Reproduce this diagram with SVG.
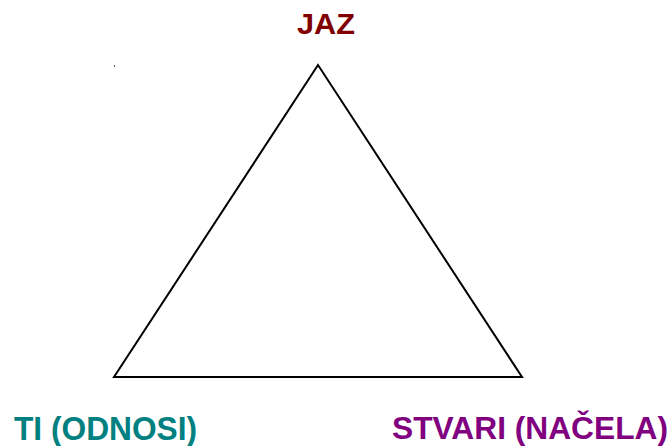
<svg xmlns="http://www.w3.org/2000/svg" width="672" height="446" viewBox="0 0 672 446">
<style>
.lbl{font-family:"Liberation Sans",Arial,sans-serif;font-weight:bold}
</style>
<rect width="672" height="446" fill="#ffffff"/>
<g id="connectors">
<polygon points="318,65 114,377 522,377" fill="none" stroke="#000000" stroke-width="2" stroke-linejoin="miter"/>
</g>
<rect x="114" y="65" width="1" height="2" fill="#555555"/>
<g id="jaz"><text class="lbl" x="297" y="34" font-size="30" fill="#800000" textLength="58" lengthAdjust="spacingAndGlyphs">JAZ</text></g>
<g id="ti"><text class="lbl" x="14" y="440" font-size="33" fill="#008080" textLength="183" lengthAdjust="spacingAndGlyphs">TI (ODNOSI)</text></g>
<g id="stvari"><text class="lbl" x="392" y="439" font-size="32" fill="#800080" textLength="276" lengthAdjust="spacingAndGlyphs">STVARI (NAČELA)</text></g>
</svg>
